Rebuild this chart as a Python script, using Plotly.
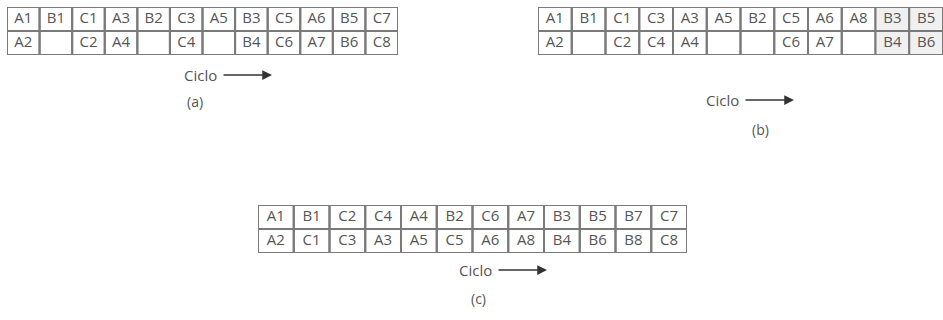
import plotly.graph_objects as go

# ---- data ----
cols = list(range(12))
a_top = ["A1", "B1", "C1", "A3", "B2", "C3", "A5", "B3", "C5", "A6", "B5", "C7"]
a_bot = ["A2", "", "C2", "A4", "", "C4", "", "B4", "C6", "A7", "B6", "C8"]
b_top = ["A1", "B1", "C1", "C3", "A3", "A5", "B2", "C5", "A6", "A8", "B3", "B5"]
b_bot = ["A2", "", "C2", "C4", "A4", "", "", "C6", "A7", "", "B4", "B6"]
c_top = ["A1", "B1", "C2", "C4", "A4", "B2", "C6", "A7", "B3", "B5", "B7", "C7"]
c_bot = ["A2", "C1", "C3", "A3", "A5", "C5", "A6", "A8", "B4", "B6", "B8", "C8"]
axis_label = "Ciclo"
panel_labels = ["(a)", "(b)", "(c)"]

W, H = 943, 320
# table frames in pixels: (x0, x1, ytop, ybot)
frames = [(7, 398, 7, 55), (538, 943, 7, 55), (258, 687, 205, 253)]
# caption positions (ciclo y, label y, ciclo center x, label x)
captions = [(75, 101, 200, 195), (100, 129, 722, 760), (270, 298, 475, 478)]

LINE = "#7a7a7a"
TXT = "#555555"
FONT = "Open Sans"

fig = go.Figure()
tables = [(a_top, a_bot), (b_top, b_bot), (c_top, c_bot)]
for k, ((top, bot), (x0, x1, yt, yb)) in enumerate(zip(tables, frames)):
    n = k + 1
    xa = "x" if n == 1 else f"x{n}"
    ya = "y" if n == 1 else f"y{n}"
    fig.add_trace(go.Scatter(
        x=cols + cols, y=[0] * len(cols) + [1] * len(cols),
        text=top + bot, mode="text",
        textfont=dict(family=FONT, size=15, color=TXT),
        xaxis=xa, yaxis=ya, hoverinfo="skip", showlegend=False,
        cliponaxis=False))
    for row, labels in enumerate((top, bot)):
        for i in cols:
            fill = "rgba(0,0,0,0)"
            if k == 1 and i >= 10:
                fill = "#f0f0f0"
            fig.add_shape(type="rect", xref=xa, yref=ya,
                          x0=i - 0.5, x1=i + 0.5, y0=row - 0.5, y1=row + 0.5,
                          line=dict(color=LINE, width=2), fillcolor=fill, layer="below")
    lay = dict(range=[-0.5, 11.5], domain=[x0 / W, x1 / W],
               visible=False, fixedrange=True)
    lay_y = dict(range=[1.5, -0.5], domain=[1 - yb / H, 1 - yt / H],
                 visible=False, fixedrange=True)
    if n == 1:
        fig.update_layout(xaxis=lay, yaxis=dict(lay_y, anchor="x"))
    else:
        fig.update_layout(**{f"xaxis{n}": dict(lay, anchor=ya),
                             f"yaxis{n}": dict(lay_y, anchor=xa)})
    cy, ly, cx, lx = captions[k]
    fig.add_annotation(x=cx / W, y=1 - cy / H, xref="paper", yref="paper",
                       text=axis_label, showarrow=False,
                       xanchor="center", yanchor="middle",
                       font=dict(family=FONT, size=15, color=TXT))
    fig.add_annotation(x=(cx + 72) / W, y=1 - cy / H, ax=-50, ay=0,
                       xref="paper", yref="paper",
                       text="", showarrow=True, arrowhead=2, arrowsize=1.3,
                       arrowwidth=1.5, arrowcolor="#333333")
    fig.add_annotation(x=lx / W, y=1 - ly / H, xref="paper", yref="paper",
                       text=panel_labels[k], showarrow=False,
                       xanchor="center", yanchor="middle",
                       font=dict(family=FONT, size=14, color=TXT))

fig.update_layout(width=W, height=H, margin=dict(l=0, r=0, t=0, b=0),
                  paper_bgcolor="white", plot_bgcolor="white")
fig.write_html("out.html", config={"displayModeBar": False, "staticPlot": True},
               post_script="document.body.style.margin='0';document.body.style.overflow='hidden';")
